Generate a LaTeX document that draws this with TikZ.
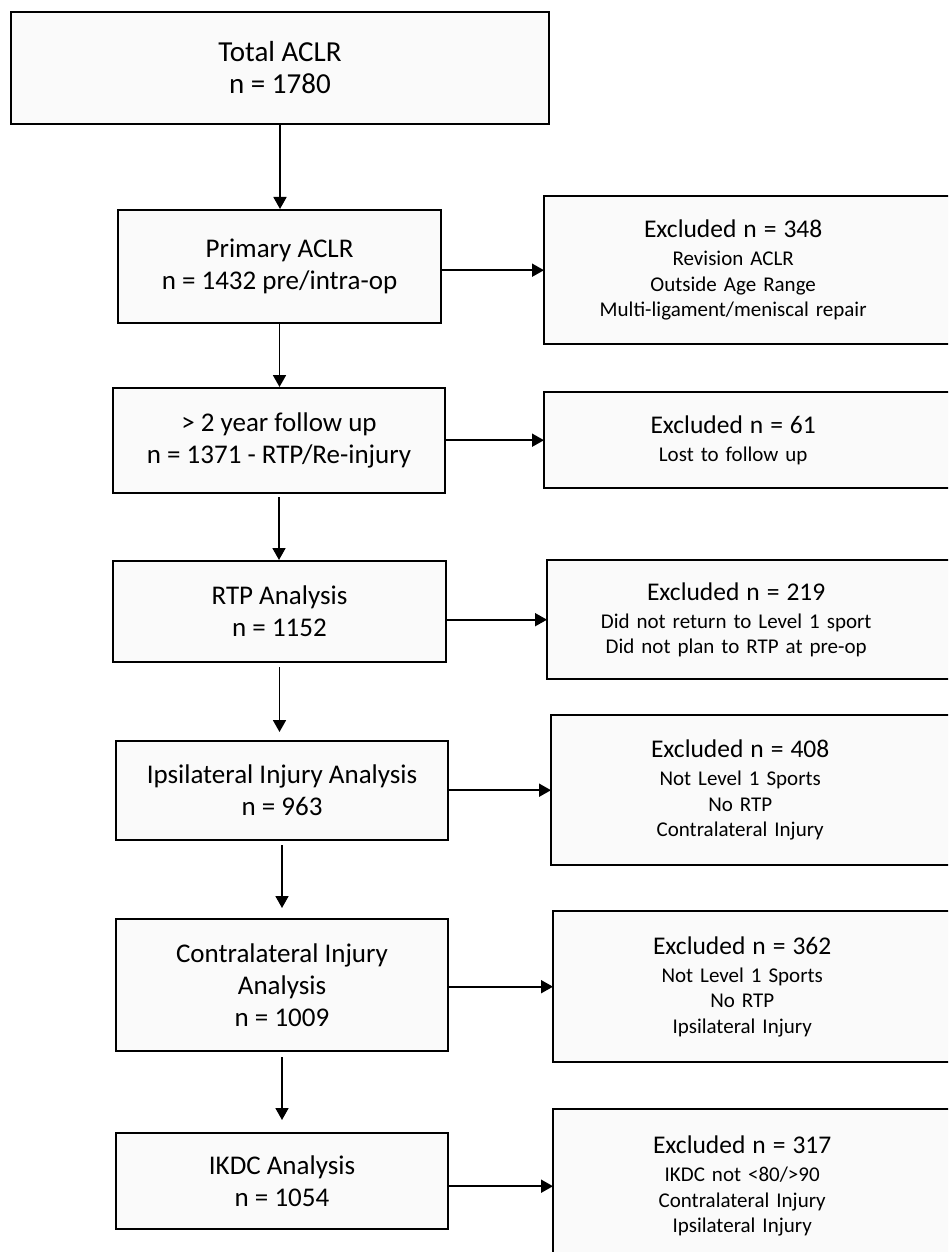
\documentclass[tikz,border=0pt]{standalone}
\usepackage{fontspec}
\setmainfont{Carlito}
\usetikzlibrary{arrows.meta,backgrounds}

\tikzset{
  boxline/.style={draw=black, line width=2pt},
  stagebox/.style={boxline, fill=black!2, anchor=north west, inner sep=0pt,
    align=center, font=\fontsize{27}{32}\selectfont},
  exclbox/.style={anchor=north west, inner xsep=0pt, inner ysep=0pt,
    text width=378pt, align=center, font=\fontsize{21}{25.5}\selectfont},
  arr/.style={line width=1.8pt, -{Triangle[length=12pt,width=13pt]}},
}
\newcommand{\extitle}[1]{{\fontsize{25.5}{28}\selectfont #1}\\[2.5pt]}

\begin{document}
\begin{tikzpicture}[x=1pt,y=-1pt]
\useasboundingbox (0,0) rectangle (948,1252);
\clip (0,0) rectangle (948,1252);

% main stages
\node[stagebox, minimum width=538pt, minimum height=112pt,
      font=\fontsize{29}{32}\selectfont] (b1) at (10,11)
  {Total ACLR\\n = 1780};
\node[stagebox, minimum width=323pt, minimum height=113pt] (b2) at (117,209)
  {Primary ACLR\\n = 1432 pre/intra-op};
\node[stagebox, minimum width=332pt, minimum height=105pt] (b3) at (112,387)
  {> 2 year follow up\\n = 1371 - RTP/Re-injury};
\node[stagebox, minimum width=333pt, minimum height=101pt] (b4) at (112,560)
  {RTP Analysis\\n = 1152};
\node[stagebox, minimum width=332pt, minimum height=99pt] (b5) at (115,740)
  {Ipsilateral Injury Analysis\\n = 963};
\node[stagebox, minimum width=332pt, minimum height=132pt] (b6) at (115,918)
  {Contralateral Injury\\Analysis\\n = 1009};
\node[stagebox, minimum width=332pt, minimum height=96pt] (b7) at (115,1132)
  {IKDC Analysis\\n = 1054};

% exclusion boxes
\node[exclbox, minimum height=148pt] (r1) at (544,196)
  {\extitle{Excluded n = 348}Revision ACLR\\Outside Age Range\\Multi-ligament/meniscal repair};
\node[exclbox, minimum height=96pt] (r2) at (544,392)
  {\extitle{Excluded n = 61}Lost to follow up};
\node[exclbox, minimum height=119pt] (r3) at (547,560)
  {\extitle{Excluded n = 219}Did not return to Level 1 sport\\Did not plan to RTP at pre-op};
\node[exclbox, minimum height=150pt] (r4) at (551,715)
  {\extitle{Excluded n = 408}Not Level 1 Sports\\No RTP\\Contralateral Injury};
\node[exclbox, minimum height=151pt] (r5) at (553,911)
  {\extitle{Excluded n = 362}Not Level 1 Sports\\No RTP\\Ipsilateral Injury};
\node[exclbox, minimum height=154pt] (r6) at (553,1109)
  {\extitle{Excluded n = 317}IKDC not <80/>90\\Contralateral Injury\\Ipsilateral Injury};

% exclusion box frames run on past the right edge
\begin{pgfonlayer}{background}
  \clip (0,0) rectangle (948,1252);
  \foreach \r in {r1,r2,r3,r4,r5,r6}
    \draw[boxline, fill=black!2] (\r.north west) rectangle ([xshift=60pt]\r.south east);
\end{pgfonlayer}

% flow down the stages
\draw[arr] (b1.south) -- (b1.south |- b2.north);
\draw[arr] (b2.south) -- (b2.south |- b3.north);
\draw[arr, shorten <=3pt] (b3.south) -- (b3.south |- b4.north);
\draw[arr, shorten <=4pt, shorten >=8pt] (b4.south) -- (b4.south |- b5.north);
\draw[arr, shorten <=4pt, shorten >=10pt] (b5.south) -- (b5.south |- b6.north);
\draw[arr, shorten <=5pt, shorten >=12pt] (b6.south) -- (b6.south |- b7.north);

% exclusions
\draw[arr] (b2.east |- r1.west) -- (r1.west);
\draw[arr] (b3.east |- r2.west) -- (r2.west);
\draw[arr] (b4.east |- r3.west) -- (r3.west);
\draw[arr] (b5.east |- r4.west) -- (r4.west);
\draw[arr] (b6.east |- r5.west) -- (r5.west);
\draw[arr] (b7.east |- r6.west) -- (r6.west);
\end{tikzpicture}
\end{document}
